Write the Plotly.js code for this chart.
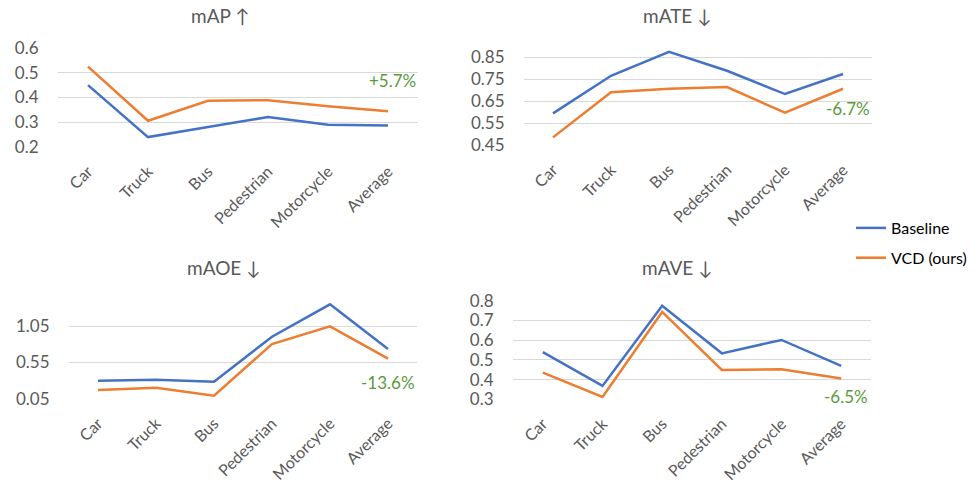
<!DOCTYPE html>
<html>
<head>
<meta charset="utf-8">
<script src="https://cdn.plot.ly/plotly-3.0.1.min.js"></script>
<style>html,body{margin:0;padding:0;background:#fff;}#chart{width:980px;height:486px;}</style>
</head>
<body>
<div id="chart"></div>
<script>
const categories = ["Car", "Truck", "Bus", "Pedestrian", "Motorcycle", "Average"];

const mapBaseline = [0.450, 0.240, 0.281, 0.321, 0.290, 0.287];
const mapVCD      = [0.525, 0.306, 0.387, 0.389, 0.365, 0.344];

const mateBaseline = [0.595, 0.766, 0.875, 0.789, 0.683, 0.774];
const mateVCD      = [0.486, 0.691, 0.707, 0.715, 0.598, 0.707];

const maoeBaseline = [0.300, 0.314, 0.287, 0.903, 1.347, 0.735];
const maoeVCD      = [0.173, 0.205, 0.095, 0.803, 1.046, 0.602];

const maveBaseline = [0.539, 0.368, 0.774, 0.533, 0.601, 0.469];
const maveVCD      = [0.435, 0.312, 0.743, 0.449, 0.452, 0.405];

const mapTicks  = [0.2, 0.3, 0.4, 0.5, 0.6];
const mateTicks = [0.45, 0.55, 0.65, 0.75, 0.85];
const maoeTicks = [0.05, 0.55, 1.05];
const maveTicks = [0.3, 0.4, 0.5, 0.6, 0.7, 0.8];

const titles = ["mAP ↑", "mATE ↓", "mAOE ↓", "mAVE ↓"];
const changes = ["+5.7%", "-6.7%", "-13.6%", "-6.5%"];
const seriesNames = ["Baseline", "VCD (ours)"];

const BLUE = "#4472C4", ORANGE = "#ED7D31", GRID = "#D9D9D9", TXT = "#595959", GREEN = "#5A9A3C";
const FONT = "Lato, 'Open Sans', sans-serif";
const W = 980, H = 486;

// panel geometry in pixels: left, right, top (value at top), bottom
const panels = [
  {l: 58,  r: 418, top: 48,    bot: 147,   range: [0.2, 0.6],  ticks: mapTicks,  fmt: 1, data: [mapBaseline, mapVCD]},
  {l: 524, r: 872, top: 46.3,  bot: 145.3, range: [0.45, 0.90], ticks: mateTicks, fmt: 2, data: [mateBaseline, mateVCD]},
  {l: 69,  r: 417, top: 300.45,bot: 399,   range: [0.05, 1.40], ticks: maoeTicks, fmt: 2, data: [maoeBaseline, maoeVCD]},
  {l: 513, r: 871, top: 300.7, bot: 399.3, range: [0.3, 0.8],  ticks: maveTicks, fmt: 1, data: [maveBaseline, maveVCD]}
];
const titlePos = [[220, 16], [677, 15], [223, 267], [677, 267]];
const changePos = [[392, 80], [848, 108], [388, 382], [846, 396]];

const traces = [];
const layout = {
  width: W, height: H,
  margin: {l: 0, r: 0, t: 0, b: 0},
  paper_bgcolor: "#fff", plot_bgcolor: "rgba(0,0,0,0)",
  font: {family: FONT, color: TXT},
  showlegend: true,
  legend: {x: 851 / W, y: 1 - 211 / H, xanchor: "left", yanchor: "top",
           font: {size: 16, color: "#000", family: FONT}, bgcolor: "rgba(0,0,0,0)",
           traceorder: "grouped", tracegroupgap: 6, itemwidth: 30},
  annotations: [],
};

panels.forEach((p, i) => {
  const sfx = i === 0 ? "" : String(i + 1);
  const xa = "x" + sfx, ya = "y" + sfx;
  [0, 1].forEach(s => {
    traces.push({
      type: "scatter", mode: "lines", x: categories, y: p.data[s],
      xaxis: xa, yaxis: ya, name: seriesNames[s], legendgroup: "g" + s,
      showlegend: i === 0,
      line: {color: s === 0 ? BLUE : ORANGE, width: 2.5},
      hoverinfo: "skip"
    });
  });
  layout["xaxis" + sfx] = {
    domain: [p.l / W, p.r / W], anchor: ya, type: "category",
    range: [-0.5, 5.5], showgrid: false, zeroline: false, showline: false,
    tickangle: -45, ticks: "outside", ticklen: 8, tickcolor: "rgba(0,0,0,0)",
    tickfont: {size: 16, color: TXT, family: FONT}, fixedrange: true
  };
  layout["yaxis" + sfx] = {
    domain: [1 - p.bot / H, 1 - p.top / H], anchor: xa,
    range: p.range, tickvals: p.ticks, ticktext: p.ticks.map(v => v.toFixed(p.fmt)),
    showgrid: true, gridcolor: GRID, gridwidth: 1, zeroline: false, showline: false,
    ticks: "outside", ticklen: 15, tickcolor: "rgba(0,0,0,0)",
    tickfont: {size: 17, color: TXT, family: FONT}, fixedrange: true
  };
  layout.annotations.push({
    xref: "paper", yref: "paper", x: titlePos[i][0] / W, y: 1 - titlePos[i][1] / H,
    text: titles[i], showarrow: false, xanchor: "center", yanchor: "middle",
    font: {size: 19, color: TXT, family: FONT}
  });
  layout.annotations.push({
    xref: "paper", yref: "paper", x: changePos[i][0] / W, y: 1 - changePos[i][1] / H,
    text: changes[i], showarrow: false, xanchor: "center", yanchor: "middle",
    font: {size: 17, color: GREEN, family: FONT}
  });
});

Plotly.newPlot("chart", traces, layout, {displayModeBar: false, staticPlot: true});
</script>
</body>
</html>
